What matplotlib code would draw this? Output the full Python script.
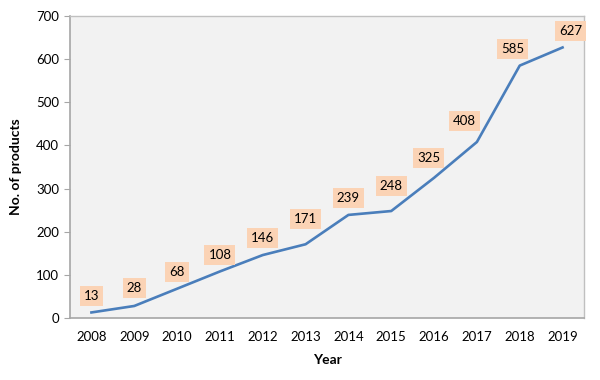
import matplotlib
matplotlib.use("Agg")
import matplotlib.pyplot as plt

# data
years = ["2008", "2009", "2010", "2011", "2012", "2013",
         "2014", "2015", "2016", "2017", "2018", "2019"]
products = [13, 28, 68, 108, 146, 171, 239, 248, 325, 408, 585, 627]

# label offsets in points (dx, dy), labels sit roughly above each point
label_dx = [0, 0, 0, 0, 0, 0, 0, 0, -4, -9, -5, 6]
label_dy = [12, 13, 12, 12, 12, 18, 12, 18, 14, 15, 12, 12]

plt.rcParams['font.family'] = ['Lato', 'DejaVu Sans']

fig = plt.figure(figsize=(6, 3.8), dpi=100)
ax = fig.add_axes([0.1167, 0.163, 0.8566, 0.795])
ax.set_facecolor("#f2f2f2")

x = list(range(len(years)))
ax.plot(x, products, color="#4a7ebb", linewidth=1.9)

for i, v in enumerate(products):
    ax.annotate(str(v), (x[i], v), xytext=(label_dx[i], label_dy[i]),
                textcoords="offset points", ha="center", va="center",
                fontsize=9.5, color="black",
                bbox=dict(boxstyle="square,pad=0.3", fc="#fbd3b5", ec="none"))

ax.set_xlim(-0.5, len(years) - 0.5)
ax.set_ylim(0, 700)
ax.set_yticks(range(0, 701, 100))
ax.set_xticks(x)
ax.set_xticklabels(years)
ax.tick_params(axis="y", length=4, color="#a6a6a6", labelsize=9.5, pad=4)
ax.tick_params(axis="x", length=0, labelsize=9.5, pad=9)

for s in ["left", "bottom"]:
    ax.spines[s].set_color("#a6a6a6")
    ax.spines[s].set_linewidth(1.2)
for s in ["top", "right"]:
    ax.spines[s].set_color("#c0c0c0")
    ax.spines[s].set_linewidth(1.0)

ax.set_xlabel("Year", fontsize=10, fontweight="bold", labelpad=8)
ax.set_ylabel("No. of products", fontsize=10, fontweight="bold", labelpad=10)

fig.savefig("out.png", dpi=100)
